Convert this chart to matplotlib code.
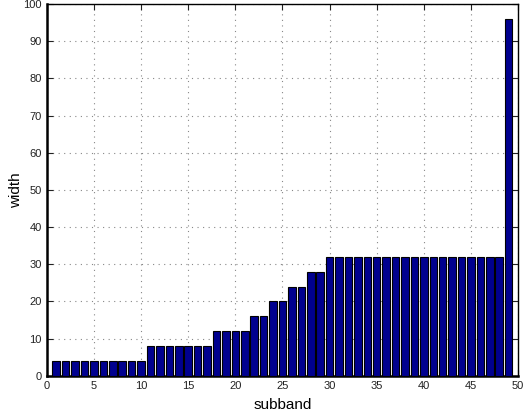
import numpy as np
import matplotlib
matplotlib.use('Agg')
import matplotlib.pyplot as plt

# width of each subband
subbands = np.arange(1, 50)
widths = [4] * 10 + [8] * 7 + [12] * 4 + [16] * 2 + [20] * 2 + [24] * 2 + [28] * 2 + [32] * 19 + [96]

plt.rcParams['font.family'] = ['Liberation Sans', 'DejaVu Sans']

fig = plt.figure(figsize=(5.26, 4.13), dpi=100)
ax = fig.add_axes([0.089, 0.09, 0.896, 0.90])

ax.bar(subbands, widths, width=0.8, color='#00008f', edgecolor='black', linewidth=0.8, zorder=3)

ax.set_xlim(0, 50)
ax.set_ylim(0, 100)
ax.set_xticks(np.arange(0, 51, 5))
ax.set_yticks(np.arange(0, 101, 10))
ax.tick_params(direction='in', labelsize=8, length=4, top=True, right=True, colors='#222222')
ax.grid(True, linestyle=(0, (1, 4)), color='#888888', linewidth=0.8, zorder=0)
for s in ax.spines.values():
    s.set_linewidth(1.0)
ax.spines['left'].set_linewidth(1.8)
ax.spines['bottom'].set_linewidth(1.8)

ax.set_xlabel('subband', fontsize=11, labelpad=5)
ax.set_ylabel('width', fontsize=11, labelpad=0)

fig.savefig('out.png', dpi=100)
